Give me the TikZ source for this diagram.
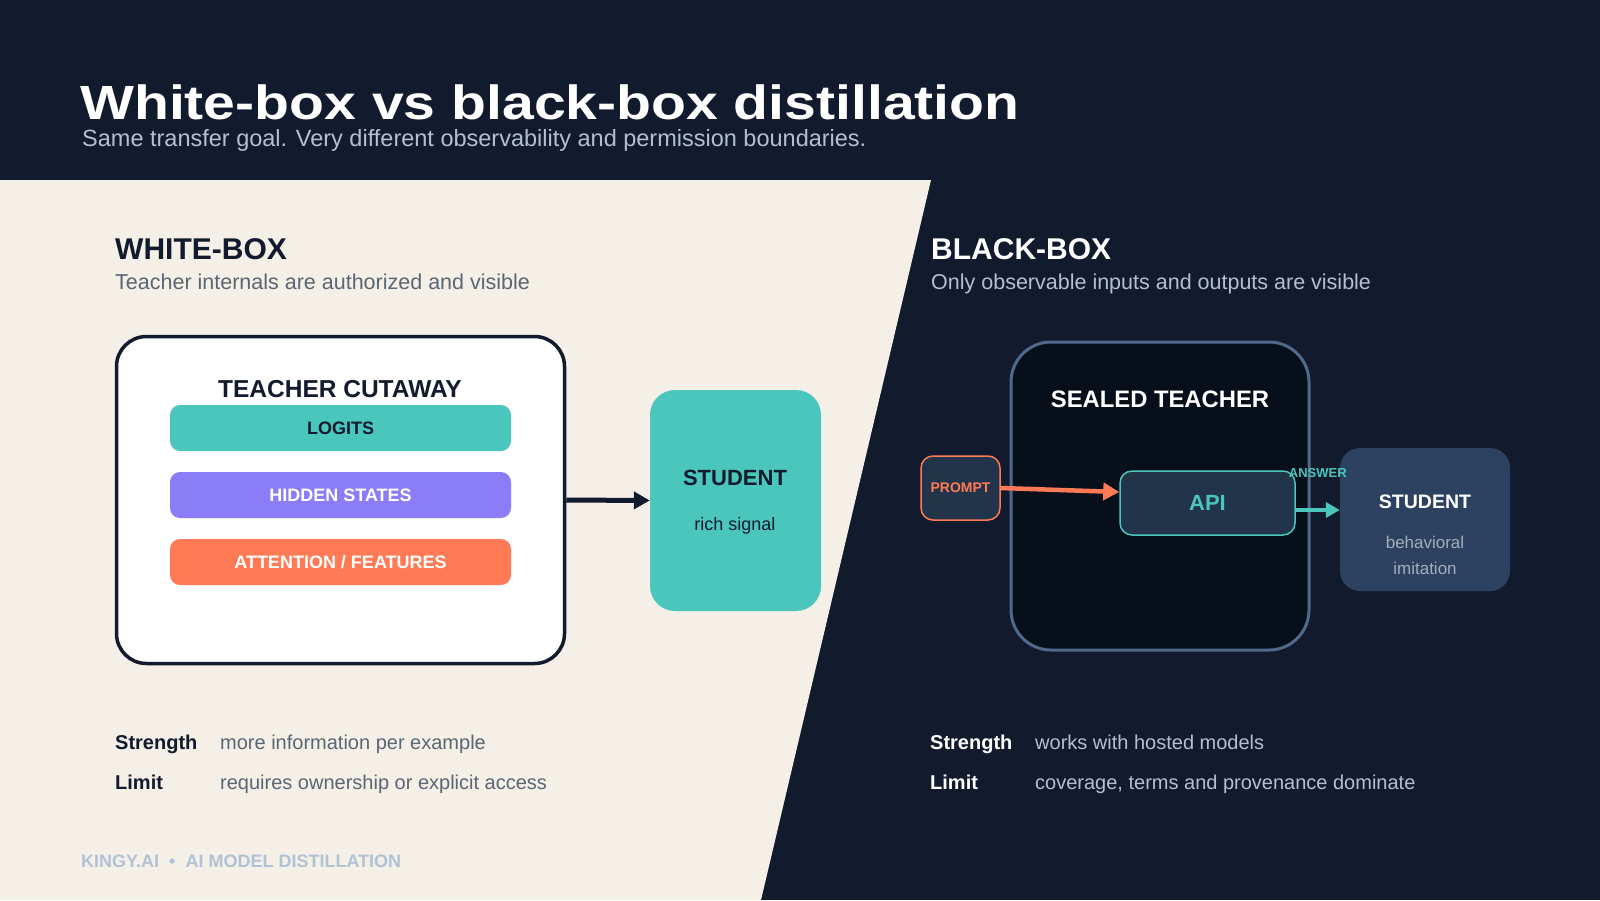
\documentclass[tikz,border=0pt]{standalone}
\usepackage{fontspec}
\setmainfont{Liberation Sans}
\usepackage{graphicx}
\usetikzlibrary{arrows.meta,calc}
\definecolor{navy}{HTML}{111B2D}
\definecolor{cream}{HTML}{F4EFE7}
\definecolor{teal}{HTML}{4AC6BC}
\definecolor{violet}{HTML}{8B7CF8}
\definecolor{coral}{HTML}{FF7A55}
\definecolor{slate}{HTML}{4F6A8A}
\definecolor{sealedbg}{HTML}{070F1B}
\definecolor{apibg}{HTML}{213449}
\definecolor{studbg}{HTML}{2D4261}
\definecolor{greytxt}{HTML}{5B6673}
\definecolor{lighttxt}{HTML}{B4C0CF}
\definecolor{foottxt}{HTML}{B0C2D6}
\newcommand\pxfont[1]{\fontsize{#1}{#1}\selectfont}
\tikzset{
  txt/.style={inner sep=0pt, anchor=base west},
  lbl/.style={inner sep=0pt},
  layerbar/.style={
    rounded corners=10pt,
    minimum width=341pt,
    minimum height=46pt,
    inner sep=0pt,
    font=\pxfont{18}\bfseries
  },
  flow/.style={
    line width=5pt,
    -{Triangle[length=16pt,width=17pt]}
  }
}

\begin{document}
\begin{tikzpicture}[x=1pt,y=-1pt]
  \useasboundingbox (0,0) rectangle (1600,900);
  % backgrounds
  \fill[navy] (0,0) rectangle (1600,900);
  \fill[cream] (0,180) -- (931,180) -- (761,900) -- (0,900) -- cycle;
  % header
  \node[txt, white] (title) at (80,119)
    {\scalebox{1.19}[1]{\pxfont{48}\bfseries White-box vs black-box distillation}};
  \node[txt, lighttxt, font=\pxfont{23.5}] (subtitle) at (82,146)
    {Same transfer goal. Very different observability and permission boundaries.};
  % white-box side
  \node[txt, navy, font=\pxfont{30}\bfseries] (wbhead) at (115,259) {WHITE-BOX};
  \node[txt, greytxt, font=\pxfont{21.5}] (wbsub) at (115,289) {Teacher internals are authorized and visible};
  \node[draw=navy, line width=3.5pt, fill=white, rounded corners=30pt,
        minimum width=448pt, minimum height=327pt] (cutaway) at (340.5,500) {};
  \node[lbl, navy, font=\pxfont{24.5}\bfseries] (cuthead) at (340,389) {TEACHER CUTAWAY};
  \node[layerbar, fill=teal, text=navy] (logits) at (340.5,428) {LOGITS};
  \node[layerbar, fill=violet, text=white] (hidden) at (340.5,495) {HIDDEN STATES};
  \node[layerbar, fill=coral, text=white] (attn) at (340.5,562) {ATTENTION / FEATURES};
  \node[fill=teal, rounded corners=25pt, minimum width=171pt, minimum height=221pt] (wstudent) at (735.5,500.5) {};
  \node[lbl, navy, font=\pxfont{22}\bfseries] (wstudlbl) at (735,478) {STUDENT};
  \node[lbl, navy, font=\pxfont{18}] (wstudsub) at (735,526) {rich signal};
  \draw[flow, navy] (cutaway.east) -- (wstudent.west);
  % black-box side
  \node[txt, white, font=\pxfont{30}\bfseries] (bbhead) at (931,259) {BLACK-BOX};
  \node[txt, lighttxt, font=\pxfont{21.5}] (bbsub) at (931,289) {Only observable inputs and outputs are visible};
  \node[draw=slate, line width=3pt, fill=sealedbg, rounded corners=40pt,
        minimum width=298pt, minimum height=308pt] (sealed) at (1160,496) {};
  \node[lbl, white, font=\pxfont{23.8}\bfseries] (sealhead) at (1160,399) {SEALED TEACHER};
  \node[draw=coral, line width=1.5pt, fill=apibg, rounded corners=12pt,
        minimum width=79pt, minimum height=64pt, text=coral, font=\pxfont{14}\bfseries] (prompt) at (960.5,488) {PROMPT};
  \node[draw=teal, line width=1.5pt, fill=apibg, rounded corners=12pt,
        minimum width=175pt, minimum height=64pt, text=teal, font=\pxfont{22}\bfseries] (api) at (1207.5,503) {API};
  \node[fill=studbg, rounded corners=20pt, minimum width=170pt, minimum height=143pt] (bstudent) at (1425,519.5) {};
  \node[lbl, white, font=\pxfont{19.5}\bfseries] (bstudlbl) at (1425,502) {STUDENT};
  \node[lbl, lighttxt!80!greytxt, font=\pxfont{17}] (bstudsub1) at (1425,542) {behavioral};
  \node[lbl, lighttxt!80!greytxt, font=\pxfont{17}] (bstudsub2) at (1425,568) {imitation};
  \draw[coral, line width=4.5pt, -{Triangle[length=16pt,width=17pt]}] (prompt.east) -- ([yshift=11pt]api.west);
  \coordinate (ansL) at ([yshift=-7pt]api.east);
  \draw[teal, line width=4pt, -{Triangle[length=14pt,width=15pt]}] (ansL) -- (ansL -| bstudent.west)
    node[midway, yshift=37pt, font=\pxfont{13}\bfseries, inner sep=0pt] (anslbl) {ANSWER};
  % strength / limit
  \node[txt, navy, font=\pxfont{20}\bfseries] (wsl) at (115,749) {Strength};
  \node[txt, greytxt, font=\pxfont{20}] (wsv) at (220,749) {more information per example};
  \node[txt, navy, font=\pxfont{20}\bfseries] (wll) at (115,789) {Limit};
  \node[txt, greytxt, font=\pxfont{20}] (wlv) at (220,789) {requires ownership or explicit access};
  \node[txt, white, font=\pxfont{20}\bfseries] (bsl) at (930,749) {Strength};
  \node[txt, lighttxt, font=\pxfont{20}] (bsv) at (1035,749) {works with hosted models};
  \node[txt, white, font=\pxfont{20}\bfseries] (bll) at (930,789) {Limit};
  \node[txt, lighttxt, font=\pxfont{20}] (blv) at (1035,789) {coverage, terms and provenance dominate};
  % footer
  \node[txt, foottxt, font=\pxfont{18}\bfseries] (footer) at (81,867) {KINGY.AI \ \textbullet\ \ AI MODEL DISTILLATION};
\end{tikzpicture}
\end{document}
